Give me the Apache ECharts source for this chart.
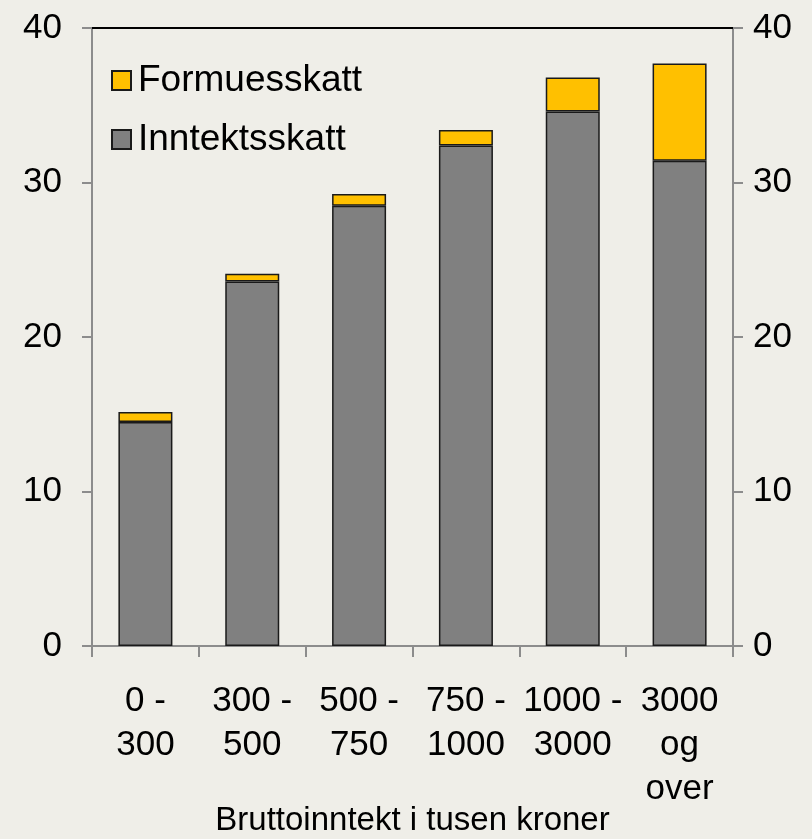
<!DOCTYPE html>
<html>
<head>
<meta charset="utf-8">
<style>
  html, body { margin: 0; padding: 0; background: #efeee8; }
  #chart { width: 812px; height: 839px; }
</style>
<script src="https://cdn.jsdelivr.net/npm/echarts@6/dist/echarts.min.js"></script>
</head>
<body>
<div id="chart"></div>
<script>
// inntektsgrupper (tusen kroner)
const categories = ['0 -\n300', '300 -\n500', '500 -\n750', '750 -\n1000', '1000 -\n3000', '3000\nog\nover'];
const inntektsskatt = [14.5, 23.6, 28.5, 32.4, 34.6, 31.4];
const formuesskatt = [0.65, 0.5, 0.75, 1.0, 2.2, 6.3];
const yTicks = [0, 10, 20, 30, 40];

const font = 'Liberation Sans, Arial, sans-serif';
const gray = '#8c8c8c';

const chart = echarts.init(document.getElementById('chart'));

const yAxisBase = {
  type: 'value',
  min: yTicks[0],
  max: yTicks[yTicks.length - 1],
  interval: 10,
  splitLine: { show: false },
  axisLine: { show: true, lineStyle: { color: gray, width: 2 } },
  axisTick: { show: true, inside: false, length: 10, lineStyle: { color: gray, width: 2 } },
  axisLabel: { color: '#000', fontSize: 35, fontFamily: font }
};

chart.setOption({
  backgroundColor: '#efeee8',
  animation: false,
  grid: { left: 92, right: 79, top: 28, bottom: 193, outerBoundsMode: 'none', containLabel: false },
  legend: {
    orient: 'vertical',
    left: 106,
    top: 57,
    itemWidth: 19,
    itemHeight: 19,
    itemGap: 22,
    icon: 'rect',
    data: ['Formuesskatt', 'Inntektsskatt'],
    textStyle: { color: '#000', fontSize: 37, fontFamily: font, padding: [0, 0, 0, 2] }
  },
  xAxis: [
    {
      type: 'category',
      data: categories,
      position: 'bottom',
      axisLine: { show: true, onZero: false, lineStyle: { color: gray, width: 2 } },
      axisTick: { show: true, alignWithLabel: false, length: 11, lineStyle: { color: gray, width: 2 } },
      axisLabel: {
        color: '#000', fontSize: 35, fontFamily: font,
        lineHeight: 44, margin: 33, interval: 0
      },
      name: 'Bruttoinntekt i tusen kroner',
      nameLocation: 'middle',
      nameGap: 158,
      nameMoveOverlap: false,
      nameTextStyle: { color: '#000', fontSize: 33, fontFamily: font }
    },
    {
      type: 'category',
      data: categories,
      position: 'top',
      axisLine: { show: true, onZero: false, lineStyle: { color: '#000', width: 2 } },
      axisTick: { show: false },
      axisLabel: { show: false }
    }
  ],
  yAxis: [
    Object.assign({}, yAxisBase, { position: 'left', axisLabel: Object.assign({}, yAxisBase.axisLabel, { margin: 30 }) }),
    Object.assign({}, yAxisBase, { position: 'right', axisLabel: Object.assign({}, yAxisBase.axisLabel, { margin: 20 }) })
  ],
  series: [
    {
      name: 'Inntektsskatt',
      type: 'bar',
      stack: 'skatt',
      data: inntektsskatt,
      barWidth: 54,
      itemStyle: { color: '#808080', borderColor: '#1a1a1a', borderWidth: 1.5 }
    },
    {
      name: 'Formuesskatt',
      type: 'bar',
      stack: 'skatt',
      data: formuesskatt,
      barWidth: 54,
      itemStyle: { color: '#ffc000', borderColor: '#1a1a1a', borderWidth: 1.5 }
    }
  ]
});
</script>
</body>
</html>
